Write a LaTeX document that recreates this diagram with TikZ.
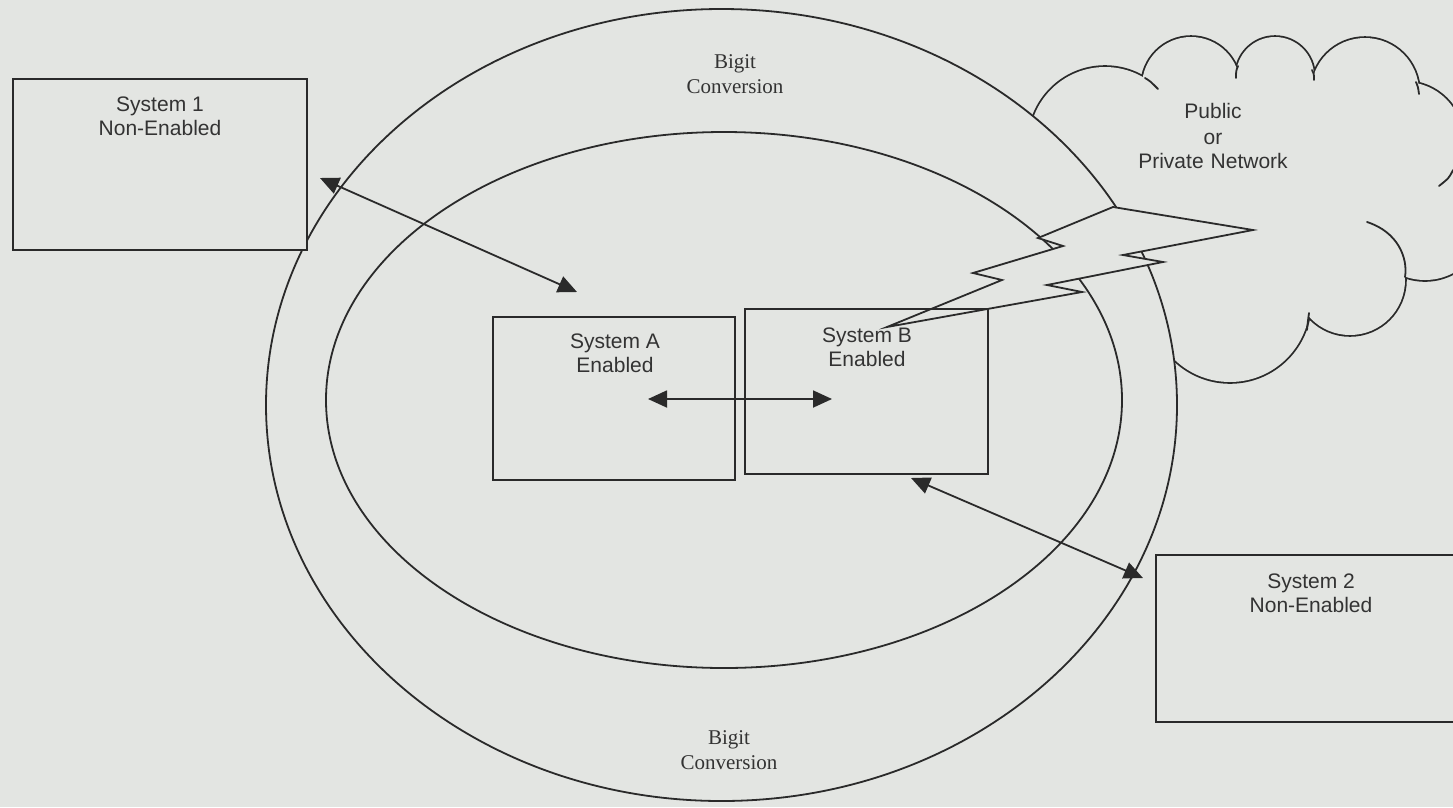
\documentclass[tikz,border=0pt]{standalone}
\usepackage{fontspec}
\setmainfont{Liberation Serif}
\newfontfamily\arialf{Liberation Sans}
\usetikzlibrary{arrows.meta}
\definecolor{bgc}{HTML}{E3E5E2}
\definecolor{ink}{HTML}{2A2A2A}
\definecolor{txtc}{HTML}{333333}
\tikzset{
  lw/.style={line width=1.8pt, draw=ink},
  sysbox/.style={lw, rectangle, inner sep=0pt},
  boxtext/.style={font=\arialf\fontsize{21}{24}\selectfont, text=txtc, align=center, inner sep=0pt},
  serif/.style={font=\fontsize{21}{25}\selectfont, text=txtc, align=center, inner sep=0pt},
  dbl/.style={lw, {Triangle[length=19pt,width=17pt]}-{Triangle[length=19pt,width=17pt]}, fill=ink},
  hook/.style={lw, line cap=round},
}
\begin{document}
\begin{tikzpicture}[x=1pt,y=-1pt]
\useasboundingbox (0,0) rectangle (1453,807);
\fill[bgc] (0,0) rectangle (1453,807);
% cloud: outline of a union of circles
\def\bumps{1105/143/76, 1191/86/49, 1275/76/39, 1365/92/54, 1405/140/58, 1425/220/60, 1350/280/55, 1230/302/80}
\foreach \cx/\cy/\r in \bumps
  \draw[ink, line width=3.6pt] (\cx,\cy) circle[radius=\r];
\foreach \cx/\cy/\r in \bumps
  \fill[bgc] (\cx,\cy) circle[radius=\r];
\fill[bgc] (1030,125) -- (1146,84) -- (1237,74) -- (1312,76) -- (1460,125) -- (1470,260) -- (1403,272) -- (1305,312) -- (1180,352) -- (1100,300) -- (1000,150) -- cycle;
% cloud hooks
\draw[hook] (1145,78) .. controls (1150,81) .. (1158,89);
\draw[hook] (1238,66) .. controls (1236,71) .. (1236,78);
\draw[hook] (1312,70) .. controls (1314,74) .. (1314,80);
\draw[hook] (1416,82) .. controls (1418,87) .. (1419,94);
\draw[hook] (1453,170) .. controls (1449,178) .. (1439,186);
\draw[hook] (1405,277) .. controls (1408,258) and (1398,232) .. (1367,222);
\draw[hook] (1309,313) .. controls (1308,320) .. (1307,330);
\node[boxtext, text width=200pt] (net) at (1213,136) {\fontsize{21}{26.5}\selectfont Public\\or\\Private Network};
% ellipses
\fill[bgc] (721.5,405) ellipse[x radius=455.5, y radius=396];
\draw[lw] (721.5,405) ellipse[x radius=455.5, y radius=396];
\draw[lw] (724,400) ellipse[x radius=398, y radius=268];
\node[serif] (bigtop) at (735,74) {Bigit\\Conversion};
\node[serif] (bigbot) at (729,750) {Bigit\\Conversion};
% lightning bolt
\filldraw[lw, fill=bgc, line join=miter] (887,327) -- (1002,280) -- (973,273) -- (1063,246) -- (1038,238) -- (1113,207) -- (1253,230) -- (1123,255) -- (1163,262) -- (1047,285) -- (1082,292) -- cycle;
% boxes
\node[sysbox, fill=bgc, minimum width=294pt, minimum height=171pt] (s1) at (160,164.5) {};
\node[boxtext] (s1t) at (160,116) {System 1\\Non-Enabled};
\node[sysbox, minimum width=242pt, minimum height=163pt] (sa) at (614,398.5) {};
\node[boxtext] (sat) at (615,353) {System A\\Enabled};
\node[sysbox, minimum width=243pt, minimum height=165pt] (sb) at (866.5,391.5) {};
\node[boxtext] (sbt) at (867,347) {System B\\Enabled};
\node[sysbox, fill=bgc, minimum width=314pt, minimum height=167pt] (s2) at (1313,638.5) {};
\node[boxtext] (s2t) at (1311,593) {System 2\\Non-Enabled};
% arrows
\coordinate (a1) at (320,178);
\coordinate (a2) at (577,292);
\coordinate (b1) at (648,399);
\coordinate (b2) at (832,399);
\coordinate (c1) at (911,478);
\coordinate (c2) at (1143,578);
\draw[dbl] (a1) -- (a2);
\draw[dbl] (b1) -- (b2);
\draw[dbl] (c1) -- (c2);
\end{tikzpicture}
\end{document}
